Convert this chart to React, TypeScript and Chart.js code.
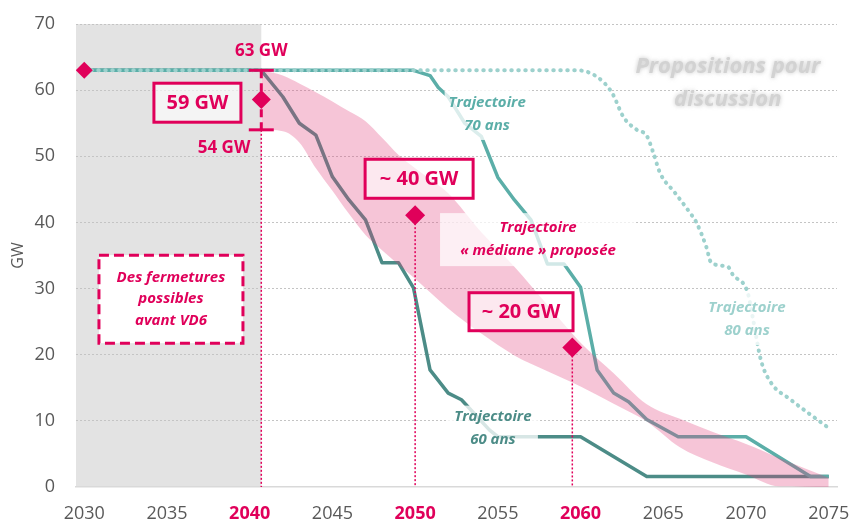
import React, { useEffect, useRef } from 'react';
import { Chart, registerables } from 'chart.js';

Chart.register(...registerables);

const FONT = "'Open Sans', sans-serif";
const CRIMSON = '#E0005A';
const TEAL_DARK = '#4C8C87';
const TEAL = '#5BAEA8';
const TEAL_LIGHT = '#9DD1CD';
const GREY_TXT = '#595959';

// Axis ticks
const xTickYears = [2030, 2035, 2040, 2045, 2050, 2055, 2060, 2065, 2070, 2075];
const highlightedYears = [2040, 2050, 2060];
const yTickValues = [0, 10, 20, 30, 40, 50, 60, 70];

// Trajectoire 60 ans
const years60 = [2030, 2040.7, 2042, 2043, 2044, 2045, 2046, 2047, 2048, 2049, 2049.9, 2050.9, 2052, 2052.8, 2054.5, 2055, 2060, 2064, 2075];
const gw60 = [63, 63, 59, 55, 53.2, 46.9, 43.4, 40.4, 33.9, 33.9, 30.1, 17.7, 14.2, 13.2, 8.6, 7.6, 7.6, 1.6, 1.6];

// Trajectoire 70 ans
const years70 = [2030, 2049.9, 2050.9, 2051.4, 2052, 2053, 2054, 2055, 2056, 2057, 2058, 2059, 2060, 2061, 2062, 2062.9, 2064, 2065.9, 2070, 2073.9, 2075];
const gw70 = [63, 63, 62.2, 60.4, 59, 55, 53, 46.8, 43.4, 40.4, 33.7, 33.7, 30.2, 17.7, 14.2, 12.9, 10.2, 7.6, 7.6, 1.6, 1.6];

// Trajectoire 80 ans
const years80 = [2030, 2059.8, 2061, 2061.9, 2062.6, 2063.4, 2064, 2064.4, 2064.8, 2065.7, 2066.6, 2067, 2067.6, 2067.9, 2068.9, 2069.2, 2070.1, 2070.4, 2070.9, 2071.5, 2072.7, 2073.7, 2074.9];
const gw80 = [63, 63, 62, 59.6, 55.9, 54, 53.1, 50.5, 47.5, 44.5, 41.5, 40, 36.3, 33.9, 33.3, 32.1, 29.4, 25.7, 19.2, 15.8, 13.2, 11.3, 9.1];

// Trajectoire « médiane » proposée (fourchette)
const bandYears = [2040.7, 2042, 2043, 2044, 2045, 2046, 2047, 2048, 2049, 2050, 2052, 2054, 2056, 2058, 2060, 2062, 2064, 2066, 2068, 2070, 2072, 2075];
const bandHigh = [63, 62.2, 61.0, 59.7, 58.3, 56.8, 55.3, 52.8, 50.2, 48.2, 44.4, 38.5, 33.3, 27.5, 21.8, 17.2, 12.5, 10.3, 8.3, 6.5, 4.4, 1.4];
const bandLow = [54, 53.8, 52.1, 48.2, 44.8, 41.3, 38.1, 35.8, 33.6, 31.5, 27.0, 23.2, 19.9, 17.5, 15.2, 12.6, 9.9, 6.0, 3.7, 1.9, 0.1, 0];

// Points de repère
const markerYears = [2030, 2040.7, 2050, 2059.5];
const markerGW = [63, 58.6, 41.1, 21.1];
const markerRadius = [8.5, 9.5, 10, 10];
const rangeYear = 2040.7;
const rangeHigh = 63;
const rangeLow = 54;
const closureEndYear = 2040.7;

const gwBoxes = [
  { text: '59 GW', x: 2036.84, y: 58.1, w: 87, h: 39 },
  { text: '~ 40 GW', x: 2050.24, y: 46.6, w: 108, h: 39 },
  { text: '~ 20 GW', x: 2056.4, y: 26.5, w: 104, h: 38 },
];

const trajLabels = [
  { lines: ['Trajectoire', '70 ans'], color: TEAL, x: 2054.35, y: 56.4, w: 85, h: 52, alpha: 0.78 },
  { lines: ['Trajectoire', '60 ans'], color: TEAL_DARK, x: 2054.7, y: 8.9, w: 90, h: 45, alpha: 0.78 },
  { lines: ['Trajectoire', '80 ans'], color: TEAL_LIGHT, x: 2070.06, y: 25.4, w: 88, h: 52, alpha: 0.78 },
  { lines: ['Trajectoire', '« médiane » proposée'], color: CRIMSON, x: 2057.43, y: 37.4, w: 196, h: 53, alpha: 0.72 },
];

const toPts = (xs: number[], ys: number[]) => xs.map((x, i) => ({ x, y: ys[i] }));

const annotPlugin = {
  id: 'annot',
  beforeDraw(chart: any) {
    const { ctx, chartArea, scales } = chart;
    const xs = scales.x;
    ctx.save();
    ctx.fillStyle = '#E3E3E3';
    const x1 = xs.getPixelForValue(closureEndYear);
    ctx.fillRect(chartArea.left, chartArea.top, x1 - chartArea.left, chartArea.bottom - chartArea.top);
    ctx.restore();
  },
  afterDatasetDraw(chart: any, args: any) {
    if (args.index !== 3) return;
    const { ctx, scales } = chart;
    const X = (v: number) => scales.x.getPixelForValue(v);
    const Y = (v: number) => scales.y.getPixelForValue(v);
    ctx.save();
    ctx.strokeStyle = CRIMSON;
    ctx.lineWidth = 1.5;
    ctx.setLineDash([2, 2]);
    const drops = [
      { x: markerYears[1], from: rangeLow },
      { x: markerYears[2], from: markerGW[2] },
      { x: markerYears[3], from: markerGW[3] },
    ];
    drops.forEach((d) => {
      ctx.beginPath();
      ctx.moveTo(X(d.x), Y(d.from));
      ctx.lineTo(X(d.x), Y(0));
      ctx.stroke();
    });
    ctx.lineWidth = 3;
    ctx.setLineDash([8, 5]);
    ctx.beginPath();
    ctx.moveTo(X(rangeYear), Y(rangeHigh));
    ctx.lineTo(X(rangeYear), Y(rangeLow));
    ctx.stroke();
    ctx.setLineDash([]);
    [rangeHigh, rangeLow].forEach((v) => {
      ctx.beginPath();
      ctx.moveTo(X(rangeYear) - 12.5, Y(v));
      ctx.lineTo(X(rangeYear) + 12.5, Y(v));
      ctx.stroke();
    });
    ctx.restore();
  },
  afterDatasetsDraw(chart: any) {
    const { ctx, scales } = chart;
    const X = (v: number) => scales.x.getPixelForValue(v);
    const Y = (v: number) => scales.y.getPixelForValue(v);
    ctx.save();
    ctx.textAlign = 'center';
    ctx.textBaseline = 'middle';

    ctx.fillStyle = CRIMSON;
    ctx.font = `bold 17px ${FONT}`;
    ctx.fillText('63 GW', X(rangeYear), Y(65.9));
    ctx.fillText('54 GW', X(2038.45), Y(51.26));

    trajLabels.forEach((l) => {
      const cx = X(l.x), cy = Y(l.y);
      ctx.fillStyle = `rgba(255,255,255,${l.alpha})`;
      ctx.fillRect(cx - l.w / 2, cy - l.h / 2, l.w, l.h);
      ctx.fillStyle = l.color;
      ctx.font = `italic bold 15px ${FONT}`;
      ctx.fillText(l.lines[0], cx, cy - 11.5);
      ctx.fillText(l.lines[1], cx, cy + 11.5);
    });

    gwBoxes.forEach((b) => {
      const cx = X(b.x), cy = Y(b.y);
      ctx.fillStyle = 'rgba(255,255,255,0.6)';
      ctx.fillRect(cx - b.w / 2, cy - b.h / 2, b.w, b.h);
      ctx.strokeStyle = CRIMSON;
      ctx.lineWidth = 3;
      ctx.strokeRect(cx - b.w / 2, cy - b.h / 2, b.w, b.h);
      ctx.fillStyle = CRIMSON;
      ctx.font = `bold 20px ${FONT}`;
      ctx.fillText(b.text, cx, cy + 1);
    });

    {
      const cx = X(2035.24), cy = Y(28.4), w = 144, h = 88;
      ctx.fillStyle = '#FFFFFF';
      ctx.fillRect(cx - w / 2, cy - h / 2, w, h);
      ctx.strokeStyle = CRIMSON;
      ctx.lineWidth = 3;
      ctx.setLineDash([10, 5]);
      ctx.strokeRect(cx - w / 2, cy - h / 2, w, h);
      ctx.setLineDash([]);
      ctx.fillStyle = CRIMSON;
      ctx.font = `italic bold 15px ${FONT}`;
      ['Des fermetures', 'possibles', 'avant VD6'].forEach((t, i) => {
        ctx.fillText(t, cx, cy - 21.5 + i * 21.5);
      });
    }

    ctx.fillStyle = '#D2D2D2';
    ctx.shadowColor = 'rgba(160,160,160,0.6)';
    ctx.shadowBlur = 4;
    ctx.font = `italic bold 22px ${FONT}`;
    ctx.fillText('Propositions pour', X(2068.9), Y(61) - 16.5);
    ctx.fillText('discussion', X(2068.9), Y(61) + 16.5);
    ctx.restore();
  },
};

export default function App() {
  const ref = useRef<HTMLCanvasElement>(null);
  useEffect(() => {
    const canvas = ref.current!;
    Chart.defaults.font.family = FONT;
    const chart = new Chart(canvas, {
      type: 'line',
      data: {
        datasets: [
          {
            label: 'Trajectoire 60 ans',
            data: toPts(years60, gw60),
            borderColor: TEAL_DARK,
            borderWidth: 3.5,
            pointRadius: 0,
            borderJoinStyle: 'round',
            fill: false,
            order: 5,
          },
          {
            label: 'Trajectoire 70 ans',
            data: toPts(years70, gw70),
            borderColor: TEAL,
            borderWidth: 3.5,
            pointRadius: 0,
            borderJoinStyle: 'round',
            fill: false,
            order: 4,
          },
          {
            label: 'Trajectoire 80 ans',
            data: toPts(years80, gw80),
            borderColor: TEAL_LIGHT,
            borderWidth: 4,
            borderDash: [0.5, 6.5],
            borderCapStyle: 'round',
            cubicInterpolationMode: 'monotone',
            pointRadius: 0,
            fill: false,
            order: 3,
          },
          {
            label: 'Fourchette haute',
            data: toPts(bandYears, bandHigh),
            borderColor: 'transparent',
            borderWidth: 0,
            backgroundColor: 'rgba(225,62,122,0.3)',
            fill: '+1',
            cubicInterpolationMode: 'monotone',
            pointRadius: 0,
            order: 2,
          },
          {
            label: 'Fourchette basse',
            data: toPts(bandYears, bandLow),
            borderColor: 'transparent',
            borderWidth: 0,
            fill: false,
            cubicInterpolationMode: 'monotone',
            pointRadius: 0,
            order: 2,
          },
          {
            label: 'Repères',
            data: toPts(markerYears, markerGW),
            showLine: false,
            pointStyle: 'rectRot',
            pointRadius: markerRadius,
            backgroundColor: CRIMSON,
            borderColor: CRIMSON,
            borderWidth: 0,
            order: 0,
          },
        ] as any,
      },
      options: {
        animation: false,
        responsive: false,
        events: [],
        layout: { padding: { left: 0, right: 14, top: 24, bottom: 0 } },
        plugins: { legend: { display: false }, tooltip: { enabled: false } },
        scales: {
          x: {
            type: 'linear',
            min: 2029.5,
            max: 2075.5,
            grid: { display: false, drawTicks: false },
            border: { display: true, color: '#D9D9D9', width: 1.5 },
            afterBuildTicks: (s: any) => {
              s.ticks = xTickYears.map((v) => ({ value: v }));
            },
            afterFit: (s: any) => {
              s.height = 35;
              s.paddingLeft = 0;
              s.paddingRight = 0;
            },
            ticks: {
              autoSkip: false,
              maxRotation: 0,
              padding: 16,
              callback: (v: any) => String(v),
              color: (c: any) => (highlightedYears.includes(c.tick?.value) ? CRIMSON : GREY_TXT),
              font: (c: any) => ({
                family: FONT,
                size: 18,
                weight: highlightedYears.includes(c.tick?.value) ? 'bold' : 'normal',
              }),
            },
          },
          y: {
            min: 0,
            max: 70,
            afterBuildTicks: (s: any) => {
              s.ticks = yTickValues.map((v) => ({ value: v }));
            },
            afterFit: (s: any) => {
              s.width = 76;
              s.paddingTop = 0;
              s.paddingBottom = 0;
            },
            grid: {
              color: (c: any) => (c.tick?.value === 0 ? 'rgba(0,0,0,0)' : '#C4C4C4'),
              lineWidth: 1,
              drawTicks: false,
            },
            border: { display: false, dash: [2, 2] },
            ticks: { padding: 21, color: GREY_TXT, font: { family: FONT, size: 18 } },
            title: {
              display: true,
              text: 'GW',
              color: GREY_TXT,
              font: { family: FONT, size: 16 },
              padding: { top: 9, bottom: 0 },
            },
          },
        },
      } as any,
      plugins: [annotPlugin],
    });
    return () => chart.destroy();
  }, []);

  return (
    <div style={{ position: 'absolute', left: 0, top: 0, width: 851, height: 522, background: '#fff' }}>
      <canvas ref={ref} width={851} height={522} style={{ display: 'block', width: 851, height: 522 }} />
    </div>
  );
}
